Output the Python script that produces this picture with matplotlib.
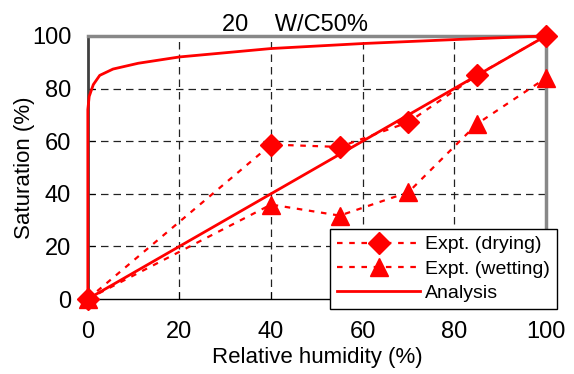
import matplotlib
matplotlib.use("Agg")
import matplotlib.pyplot as plt

plt.rcParams['font.family'] = ['Liberation Sans', 'DejaVu Sans']

x_expt = [0, 40, 55, 70, 85, 100]
drying = [0, 58.7, 57.8, 67.2, 85.1, 100]
wetting = [0, 35.9, 31.7, 40.6, 66.6, 84]

ana_x = [0, 0, 0.3, 1.2, 2.6, 5.5, 11, 20, 40, 60, 80, 100]
ana_y = [0, 72, 77, 81.5, 85, 87.4, 89.6, 92, 95.2, 97.1, 98.6, 100]
ana2_x = [0, 100]
ana2_y = [0, 100]

xticks = [0, 20, 40, 60, 80, 100]
yticks = [0, 20, 40, 60, 80, 100]

fig = plt.figure(figsize=(5.74, 3.74), dpi=100)
ax = fig.add_axes([0.153, 0.2005, 0.798, 0.7035])

for v in [20, 40, 60, 80]:
    ax.axvline(v, color='#222222', lw=0.9, ls=(0, (6, 4)), zorder=1)
    ax.axhline(v, color='#222222', lw=0.9, ls=(0, (6, 4)), zorder=1)

ax.plot(x_expt, drying, color='red', lw=1.6, ls=(0, (2.5, 3)), marker='D',
        ms=11, clip_on=False, zorder=4, label='Expt. (drying)')
ax.plot(x_expt, wetting, color='red', lw=1.6, ls=(0, (2.5, 3)), marker='^',
        ms=13, clip_on=False, zorder=4, label='Expt. (wetting)')
ax.plot(ana_x, ana_y, color='red', lw=2, clip_on=False, zorder=3, label='Analysis')
ax.plot(ana2_x, ana2_y, color='red', lw=2, clip_on=False, zorder=3)

ax.set_xlim(0, 100)
ax.set_ylim(0, 100)
ax.set_xticks(xticks)
ax.set_yticks(yticks)
ax.tick_params(direction='in', length=5, labelsize=17, colors='black')
ax.tick_params(axis='y', pad=12)
ax.tick_params(axis='x', pad=16)

ax.spines['left'].set_color('#404040')
ax.spines['left'].set_linewidth(2)
ax.spines['top'].set_color('#888888')
ax.spines['top'].set_linewidth(2.5)
ax.spines['right'].set_color('#888888')
ax.spines['right'].set_linewidth(2.5)
ax.spines['bottom'].set_color('black')
ax.spines['bottom'].set_linewidth(1)

ax.set_xlabel('Relative humidity (%)', fontsize=16, labelpad=3)
ax.set_ylabel('Saturation (%)', fontsize=16, labelpad=-2)
ax.set_title('20    W/C50%', fontsize=17, pad=3, x=0.452)

leg = ax.legend(loc='lower right', bbox_to_anchor=(557 / 574, 1 - 309 / 374),
                bbox_transform=fig.transFigure, fontsize=14, frameon=True,
                fancybox=False, edgecolor='black', framealpha=1,
                handlelength=4.3, borderpad=0.35, labelspacing=0.35,
                handletextpad=0.25, borderaxespad=0)
leg.get_frame().set_linewidth(1)
leg.set_zorder(10)

fig.savefig('out.png', dpi=100)
